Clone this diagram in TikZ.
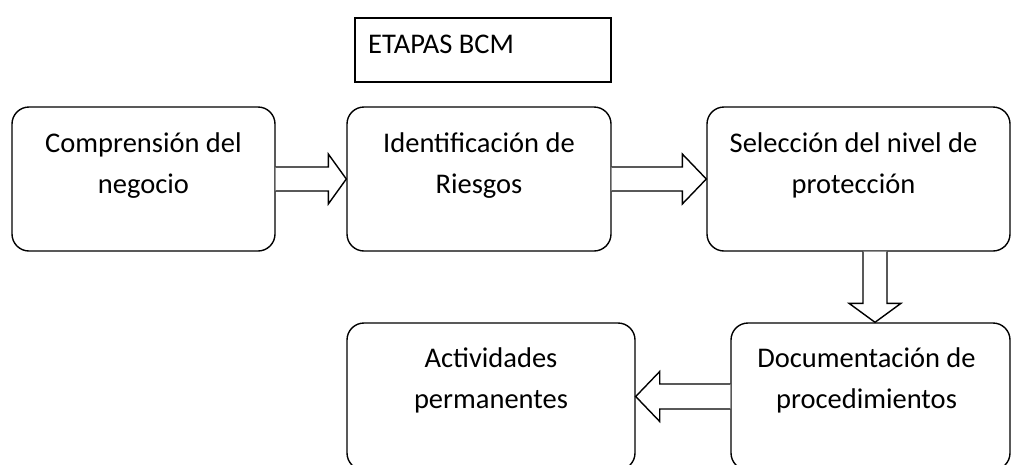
\documentclass[tikz,border=0pt]{standalone}
\usepackage{fontspec}
\setmainfont{Carlito}
\usetikzlibrary{calc}
\begin{document}
\begin{tikzpicture}[x=1pt,y=1pt,
  box/.style={draw=black,line width=1.4pt,rounded corners=17pt,inner sep=0pt},
  tbox/.style={draw=black,line width=1.4pt,inner sep=0pt},
  lbl/.style={inner sep=0pt,anchor=base,font=\fontsize{28.5}{41}\selectfont},
  blk/.style={draw=black,line width=1.4pt,fill=white,line join=miter}]
\useasboundingbox (0,0) rectangle (1011,-464);
\clip (0,0) rectangle (1011,-464);
% title
\node[tbox,minimum width=256pt,minimum height=64pt] (tt) at (483,-50) {};
\node[lbl,anchor=base west] (ttl) at (368,-53) {ETAPAS BCM};
% boxes
\node[box,minimum width=263pt,minimum height=144pt] (b1) at (143.5,-179) {};
\node[box,minimum width=264pt,minimum height=144pt] (b2) at (479,-179) {};
\node[box,minimum width=303pt,minimum height=144pt] (b3) at (858.5,-179) {};
\node[box,minimum width=288pt,minimum height=147pt] (b4) at (491,-396.5) {};
\node[box,minimum width=279pt,minimum height=147pt] (b5) at (870.5,-396.5) {};
% texts
\node[lbl] (t1a) at ($(b1.north)+(0,-46)$) {Comprensión del};
\node[lbl] (t1b) at ($(b1.north)+(0,-87)$) {negocio};
\node[lbl] (t2a) at ($(b2.north)+(0,-46)$) {Identificación de};
\node[lbl] (t2b) at ($(b2.north)+(0,-87)$) {Riesgos};
\node[lbl] (t3a) at ($(b3.north)+(-5,-46)$) {Selección del nivel de};
\node[lbl] (t3b) at ($(b3.north)+(-5,-87)$) {protección};
\node[lbl] (t4a) at ($(b4.north)+(0,-45)$) {Actividades};
\node[lbl] (t4b) at ($(b4.north)+(0,-86)$) {permanentes};
\node[lbl] (t5a) at ($(b5.north)+(-4,-45)$) {Documentación de};
\node[lbl] (t5b) at ($(b5.north)+(-4,-86)$) {procedimientos};
% block arrows
\draw[blk] ($(b1.east)+(0,12)$) -- ($(b2.west)+(-18,12)$) -- ($(b2.west)+(-18,25)$)
  -- (b2.west) -- ($(b2.west)+(-18,-25)$) -- ($(b2.west)+(-18,-12)$) -- ($(b1.east)+(0,-12)$);
\draw[blk] ($(b2.east)+(0,12)$) -- ($(b3.west)+(-24,12)$) -- ($(b3.west)+(-24,25)$)
  -- (b3.west) -- ($(b3.west)+(-24,-25)$) -- ($(b3.west)+(-24,-12)$) -- ($(b2.east)+(0,-12)$);
\coordinate (tipD) at ($(b5.north)+(4.5,0)$);
\coordinate (srcD) at (b3.south -| tipD);
\draw[blk] ($(srcD)+(-12,0)$) -- ($(tipD)+(-12,19)$) -- ($(tipD)+(-26,19)$)
  -- (tipD) -- ($(tipD)+(26,19)$) -- ($(tipD)+(12,19)$) -- ($(srcD)+(12,0)$);
\draw[blk] ($(b5.west)+(0,12.5)$) -- ($(b4.east)+(24,12.5)$) -- ($(b4.east)+(24,25)$)
  -- (b4.east) -- ($(b4.east)+(24,-25)$) -- ($(b4.east)+(24,-12.5)$) -- ($(b5.west)+(0,-12.5)$);
\end{tikzpicture}
\end{document}
